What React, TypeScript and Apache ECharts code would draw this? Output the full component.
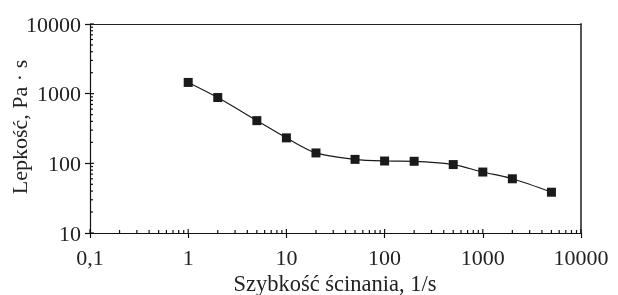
import React, { useEffect, useRef } from "react";
import * as echarts from "echarts";

const shearRates = [1, 2, 5, 10, 20, 50, 100, 200, 500, 1000, 2000, 5000];
const viscosity = [1450, 880, 410, 232, 141, 114, 108, 107, 96, 75, 60, 38.5];
const xTicks = [0.1, 1, 10, 100, 1000, 10000];
const yTicks = [10, 100, 1000, 10000];
const xTitle = "Szybkość ścinania, 1/s";
const yTitle = "Lepkość, Pa · s";

const X_MIN = 0.1, X_MAX = 10000, Y_MIN = 10, Y_MAX = 10000;
const FONT = "Liberation Serif";

function minorTicks(min: number, max: number): number[] {
  const out: number[] = [];
  for (let d = min; d < max; d *= 10) {
    for (let k = 2; k <= 9; k++) out.push(+(d * k).toPrecision(6));
  }
  return out;
}

export default function App() {
  const ref = useRef<HTMLDivElement>(null);
  useEffect(() => {
    if (!ref.current) return;
    const chart = echarts.init(ref.current, null, { renderer: "svg" });
    const xMinor = minorTicks(X_MIN, X_MAX);
    const yMinor = minorTicks(Y_MIN, Y_MAX);
    const xTickData = [
      ...xTicks.map((v) => [v, 4]),
      ...xMinor.map((v) => [v, 3]),
    ];
    const yTickData = [
      ...yTicks.map((v) => [v, 4]),
      ...yMinor.map((v) => [v, 3]),
    ];
    const fmt = (v: number) => {
      const r = +v.toPrecision(6);
      return String(r).replace(".", ",");
    };
    chart.setOption({
      animation: false,
      grid: { left: 90, top: 24, right: 37, bottom: 62, containLabel: false },
      xAxis: [
        {
          type: "log",
          logBase: 10,
          min: X_MIN,
          max: X_MAX,
          position: "bottom",
          axisLine: { show: true, lineStyle: { color: "#111", width: 1.2 } },
          axisTick: { show: true, inside: false, length: 5, lineStyle: { color: "#111", width: 1.2 } },
          axisLabel: { color: "#222", fontSize: 22, fontFamily: FONT, margin: 13, formatter: fmt },
          splitLine: { show: false },
          minorTick: { show: false },
        },
        {
          type: "log",
          logBase: 10,
          min: X_MIN,
          max: X_MAX,
          position: "top",
          axisLine: { show: true, lineStyle: { color: "#222", width: 1.2 } },
          axisTick: { show: false },
          axisLabel: { show: false },
          splitLine: { show: false },
        },
      ],
      yAxis: [
        {
          type: "log",
          logBase: 10,
          min: Y_MIN,
          max: Y_MAX,
          position: "left",
          axisLine: { show: true, lineStyle: { color: "#111", width: 1.2 } },
          axisTick: { show: true, inside: false, length: 5, lineStyle: { color: "#111", width: 1.2 } },
          axisLabel: { color: "#222", fontSize: 22, fontFamily: FONT, margin: 9, formatter: fmt },
          splitLine: { show: false },
        },
        {
          type: "log",
          logBase: 10,
          min: Y_MIN,
          max: Y_MAX,
          position: "right",
          axisLine: { show: true, lineStyle: { color: "#555", width: 2 } },
          axisTick: { show: false },
          axisLabel: { show: false },
          splitLine: { show: false },
        },
      ],
      graphic: [
        {
          type: "text",
          x: 335,
          y: 283,
          style: {
            text: xTitle,
            fontSize: 22.5,
            fontFamily: FONT,
            fill: "#222",
            textAlign: "center",
            textVerticalAlign: "middle",
          },
        },
        {
          type: "text",
          x: 19,
          y: 127,
          rotation: Math.PI / 2,
          style: {
            text: yTitle,
            fontSize: 22,
            fontFamily: FONT,
            fill: "#222",
            textAlign: "center",
            textVerticalAlign: "middle",
          },
        },
      ],
      series: [
        {
          type: "custom",
          coordinateSystem: "cartesian2d",
          xAxisIndex: 0,
          yAxisIndex: 0,
          clip: false,
          silent: true,
          data: xTickData,
          renderItem: (params: any, api: any) => {
            const p = api.coord([api.value(0), Y_MIN]);
            const len = api.value(1);
            return {
              type: "line",
              shape: { x1: p[0], y1: p[1], x2: p[0], y2: p[1] - len },
              style: { stroke: "#111", lineWidth: 1.2 },
            };
          },
        },
        {
          type: "custom",
          coordinateSystem: "cartesian2d",
          xAxisIndex: 0,
          yAxisIndex: 0,
          clip: false,
          silent: true,
          data: yTickData.map((d) => [X_MIN, d[0], d[1]]),
          renderItem: (params: any, api: any) => {
            const p = api.coord([X_MIN, api.value(1)]);
            const len = api.value(2);
            return {
              type: "line",
              shape: { x1: p[0], y1: p[1], x2: p[0] + len, y2: p[1] },
              style: { stroke: "#111", lineWidth: 1.2 },
            };
          },
        },
        {
          type: "line",
          xAxisIndex: 0,
          yAxisIndex: 0,
          data: shearRates.map((x, i) => [x, viscosity[i]]),
          smooth: 0.3,
          symbol: "rect",
          symbolSize: 9,
          itemStyle: { color: "#1a1a1a" },
          lineStyle: { color: "#1a1a1a", width: 1.2 },
        },
      ],
    });
    return () => chart.dispose();
  }, []);
  return (
    <div
      ref={ref}
      style={{ position: "fixed", left: 0, top: 0, width: 618, height: 295 }}
    />
  );
}
